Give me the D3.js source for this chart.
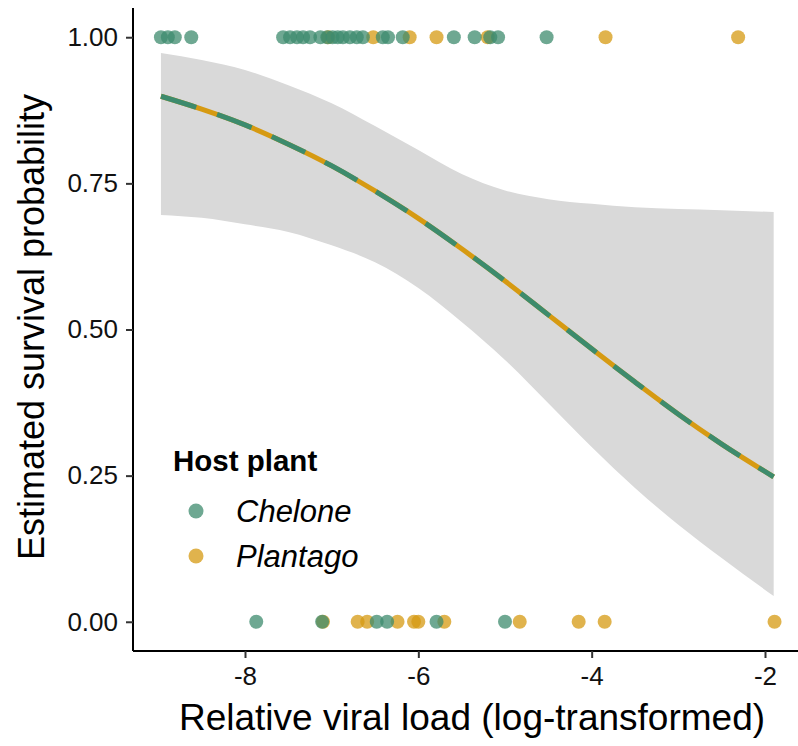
<!DOCTYPE html>
<html>
<head>
<meta charset="utf-8">
<script src="https://cdn.jsdelivr.net/npm/d3@7"></script>
<style>
  body { margin: 0; background: #fff; }
  svg { font-family: "Liberation Sans", Arial, sans-serif; }
</style>
</head>
<body>
<div id="chart"></div>
<script>
// observed points: viral load for survivors (1) and dead (0), by host plant
const cheloneAlive = [-8.97, -8.89, -8.81, -8.62, -7.56, -7.48, -7.40, -7.33, -7.25, -7.13, -7.05,
  -6.99, -6.93, -6.87, -6.79, -6.71, -6.64, -6.41, -6.35, -6.18, -5.59, -5.35, -5.17, -5.08, -4.52];
const plantagoAlive = [-7.04, -6.52, -6.10, -5.79, -5.20, -3.84, -2.31];
const cheloneDead = [-7.87, -7.11, -6.48, -6.36, -5.79, -5.00];
const plantagoDead = [-7.10, -6.70, -6.59, -6.24, -6.05, -6.00, -5.70, -4.83, -4.15, -3.85, -1.89];

// fitted curve and confidence band
const fitX = [-8.97, -8.5, -8, -7.5, -7, -6.5, -6, -5.5, -5, -4.5, -4, -3.5, -3, -2.5, -1.9];
const fitY = [0.899, 0.877, 0.850, 0.817, 0.780, 0.737, 0.690, 0.638, 0.583, 0.525, 0.467, 0.410, 0.355, 0.304, 0.248];
const upperY = [0.973, 0.961, 0.944, 0.918, 0.887, 0.848, 0.807, 0.766, 0.738, 0.723, 0.715, 0.709, 0.706, 0.704, 0.701];
const lowerY = [0.696, 0.691, 0.680, 0.667, 0.644, 0.615, 0.571, 0.513, 0.448, 0.374, 0.299, 0.229, 0.166, 0.109, 0.044];

const xTicks = [-8, -6, -4, -2];
const yTicks = [0, 0.25, 0.5, 0.75, 1];
const hosts = ['Chelone', 'Plantago'];

const green = '#3d8b6d';
const orange = '#d69a12';

const svg = d3.select('#chart')
  .append('svg')
  .attr('width', 798)
  .attr('height', 746);

const x = d3.scaleLinear().domain([-8, -2]).range([245, 765]);
const y = d3.scaleLinear().domain([-0.05, 1.05]).range([651, 8]);
const left = 133;

// confidence band
const band = fitX.map((v, i) => ({ x: v, lo: lowerY[i], hi: upperY[i] }));
svg.append('path')
  .datum(band)
  .attr('fill', '#d9d9d9')
  .attr('d', d3.area()
    .x(d => x(d.x))
    .y0(d => y(d.lo))
    .y1(d => y(d.hi))
    .curve(d3.curveMonotoneX));

// fitted line, one colour per host drawn over each other
const fit = fitX.map((v, i) => ({ x: v, y: fitY[i] }));
const line = d3.line().x(d => x(d.x)).y(d => y(d.y)).curve(d3.curveMonotoneX);

svg.append('path')
  .datum(fit)
  .attr('fill', 'none')
  .attr('stroke', orange)
  .attr('stroke-width', 5)
  .attr('d', line);

svg.append('path')
  .datum(fit)
  .attr('fill', 'none')
  .attr('stroke', green)
  .attr('stroke-width', 5)
  .attr('stroke-dasharray', '37,22')
  .attr('d', line);

// points
const pts = [];
plantagoAlive.forEach(v => pts.push({ x: v, y: 1, host: 'Plantago' }));
plantagoDead.forEach(v => pts.push({ x: v, y: 0, host: 'Plantago' }));
cheloneAlive.forEach(v => pts.push({ x: v, y: 1, host: 'Chelone' }));
cheloneDead.forEach(v => pts.push({ x: v, y: 0, host: 'Chelone' }));

svg.selectAll('.pt')
  .data(pts)
  .enter()
  .append('circle')
  .attr('class', 'pt')
  .attr('cx', d => x(d.x))
  .attr('cy', d => y(d.y))
  .attr('r', 7)
  .attr('fill', d => d.host === 'Chelone' ? green : orange)
  .attr('fill-opacity', 0.75);

// axes
const xAxis = svg.append('g')
  .attr('transform', `translate(0, ${y(-0.05)})`)
  .call(d3.axisBottom(x).tickValues(xTicks).tickSize(7).tickPadding(9).tickFormat(d => String(d)));
xAxis.select('.domain').attr('d', `M${left},0H798`);

const yAxis = svg.append('g')
  .attr('transform', `translate(${left}, 0)`)
  .call(d3.axisLeft(y).tickValues(yTicks).tickSize(7).tickPadding(8).tickFormat(d3.format('.2f')));
yAxis.select('.domain').attr('d', `M0,${y(1.05)}V${y(-0.05)}`);

svg.selectAll('.domain').attr('stroke', '#000').attr('stroke-width', 2);
svg.selectAll('.tick line').attr('stroke', '#333').attr('stroke-width', 2);
svg.selectAll('.tick text').attr('fill', '#111').style('font-size', '26px');

// axis titles
svg.append('text')
  .attr('x', 472)
  .attr('y', 730)
  .attr('text-anchor', 'middle')
  .style('font-size', '37px')
  .text('Relative viral load (log-transformed)');

svg.append('text')
  .attr('transform', 'translate(44, 327) rotate(-90)')
  .attr('text-anchor', 'middle')
  .style('font-size', '36px')
  .text('Estimated survival probability');

// legend
const legend = svg.append('g').attr('transform', 'translate(173, 471)');
legend.append('text')
  .style('font-size', '29.5px')
  .style('font-weight', 'bold')
  .text('Host plant');

const items = legend.selectAll('.item')
  .data(hosts)
  .enter()
  .append('g')
  .attr('class', 'item')
  .attr('transform', (d, i) => `translate(0, ${40 + i * 45})`);

items.append('circle')
  .attr('cx', 23)
  .attr('cy', 0)
  .attr('r', 7.5)
  .attr('fill', d => d === 'Chelone' ? green : orange)
  .attr('fill-opacity', 0.75);

items.append('text')
  .attr('x', 63)
  .attr('y', 11)
  .style('font-size', '31px')
  .style('font-style', 'italic')
  .text(d => d);
</script>
</body>
</html>
